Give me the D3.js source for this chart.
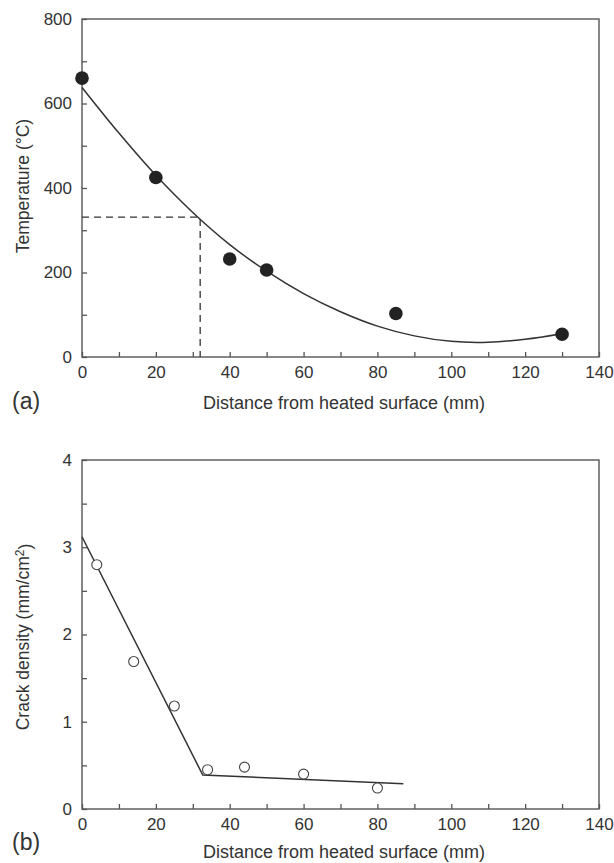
<!DOCTYPE html>
<html lang="en">
    <head>
        <meta charset="utf-8">
        <title>Temperature and crack density</title>
        <script src="https://d3js.org/d3.v7.min.js"></script>
        <style>
            body { margin: 0; background: #fff; }
            text { font-family: "Liberation Sans", Arial, sans-serif; fill: #333; }
        </style>
    </head>
    <body>
        <div id="dataviz"></div>
        <script>
            // (a) temperature measurements and fitted curve
            var tempX = [0, 20, 40, 50, 85, 130];
            var tempY = [660, 425, 232, 206, 103, 54];
            var fitX = [0, 10, 20, 30, 40, 50, 60, 70, 80, 90, 100, 110, 120, 130];
            var fitY = [638, 530, 430, 342, 266, 203, 150, 107, 73, 50, 37, 35, 42, 55];
            var markX = 32, markY = 331;

            // (b) crack density measurements and bilinear fit
            var crackX = [4, 14, 25, 34, 44, 60, 80];
            var crackY = [2.8, 1.69, 1.18, 0.45, 0.48, 0.40, 0.24];
            var lineX = [0, 32.7, 87];
            var lineY = [3.12, 0.39, 0.29];

            var xTicks = [0, 10, 20, 30, 40, 50, 60, 70, 80, 90, 100, 110, 120, 130, 140];
            var tempTicks = [0, 100, 200, 300, 400, 500, 600, 700, 800];
            var crackTicks = [0, 0.5, 1, 1.5, 2, 2.5, 3, 3.5, 4];

            var W = 614, H = 863;
            var left = 82, right = 599;

            var svg = d3.select("#dataviz")
                        .append("svg")
                        .attr("width", W)
                        .attr("height", H);

            var x = d3.scaleLinear().domain([0, 140]).range([left, right]);

            function panel(top, bottom, yScale, yTicks, yFmt, yTitle, tag, xTitleY, tagY) {
                var g = svg.append("g");

                // frame
                g.append("rect")
                    .attr("x", left).attr("y", top)
                    .attr("width", right - left).attr("height", bottom - top)
                    .style("fill", "none").style("stroke", "#555").style("stroke-width", 1.4);

                var xAxis = g.append("g")
                    .attr("transform", "translate(0," + bottom + ")")
                    .call(d3.axisBottom(x).tickValues(xTicks).tickSize(-5).tickPadding(9)
                        .tickFormat(function(d) { return d % 20 === 0 ? d : ""; }));
                var yAxis = g.append("g")
                    .attr("transform", "translate(" + left + ",0)")
                    .call(d3.axisLeft(yScale).tickValues(yTicks).tickSize(-5).tickPadding(10)
                        .tickFormat(yFmt));

                [xAxis, yAxis].forEach(function(a) {
                    a.select(".domain").remove();
                    a.selectAll("line").style("stroke", "#555").style("stroke-width", 1.3);
                    a.selectAll("text").style("font-size", "17px").style("fill", "#333");
                });

                g.append("text")
                    .attr("x", (left + right) / 2 + 3.5)
                    .attr("y", xTitleY)
                    .style("text-anchor", "middle")
                    .style("font-size", "18px")
                    .text("Distance from heated surface (mm)");

                g.append("text")
                    .attr("transform", "translate(" + 29 + "," + yTitle.cy + ") rotate(-90)")
                    .style("text-anchor", "middle")
                    .style("font-size", "17.5px")
                    .each(function() {
                        var t = d3.select(this);
                        t.append("tspan").text(yTitle.text);
                        if (yTitle.sup) {
                            t.append("tspan").attr("dy", "-0.45em").style("font-size", "12px").text(yTitle.sup);
                            t.append("tspan").attr("dy", "0.45em").text(yTitle.after);
                        }
                    });

                g.append("text")
                    .attr("x", 12)
                    .attr("y", tagY)
                    .style("font-size", "23px")
                    .text(tag);

                return g;
            }

            // ---- panel (a)
            var yT = d3.scaleLinear().domain([0, 800]).range([357, 19]);
            var ga = panel(19, 357, yT, tempTicks,
                function(d) { return d % 200 === 0 ? d : ""; },
                {text: "Temperature (\u00B0C)", cy: 186}, "(a)", 409, 409);

            ga.append("path")
                .datum([[0, markY], [markX, markY], [markX, 0]])
                .attr("d", d3.line().x(function(d) { return x(d[0]); }).y(function(d) { return yT(d[1]); }))
                .style("fill", "none").style("stroke", "#333").style("stroke-width", 1.3)
                .style("stroke-dasharray", "7,5");

            ga.append("path")
                .datum(d3.zip(fitX, fitY))
                .attr("d", d3.line().curve(d3.curveCatmullRom)
                    .x(function(d) { return x(d[0]); }).y(function(d) { return yT(d[1]); }))
                .style("fill", "none").style("stroke", "#333").style("stroke-width", 1.5);

            ga.selectAll("circle.pt")
                .data(d3.zip(tempX, tempY))
                .enter().append("circle")
                .attr("class", "pt")
                .attr("cx", function(d) { return x(d[0]); })
                .attr("cy", function(d) { return yT(d[1]); })
                .attr("r", 6.8)
                .style("fill", "#222");

            // ---- panel (b)
            var yC = d3.scaleLinear().domain([0, 4]).range([809, 460]);
            var gb = panel(460, 809, yC, crackTicks,
                function(d) { return d % 1 === 0 ? d : ""; },
                {text: "Crack density (mm/cm", sup: "2", after: ")", cy: 637}, "(b)", 858, 850);

            gb.append("path")
                .datum(d3.zip(lineX, lineY))
                .attr("d", d3.line().x(function(d) { return x(d[0]); }).y(function(d) { return yC(d[1]); }))
                .style("fill", "none").style("stroke", "#333").style("stroke-width", 1.5);

            gb.selectAll("circle.pt")
                .data(d3.zip(crackX, crackY))
                .enter().append("circle")
                .attr("class", "pt")
                .attr("cx", function(d) { return x(d[0]); })
                .attr("cy", function(d) { return yC(d[1]); })
                .attr("r", 5)
                .style("fill", "#fff")
                .style("stroke", "#444")
                .style("stroke-width", 1.1);
        </script>
    </body>
</html>
